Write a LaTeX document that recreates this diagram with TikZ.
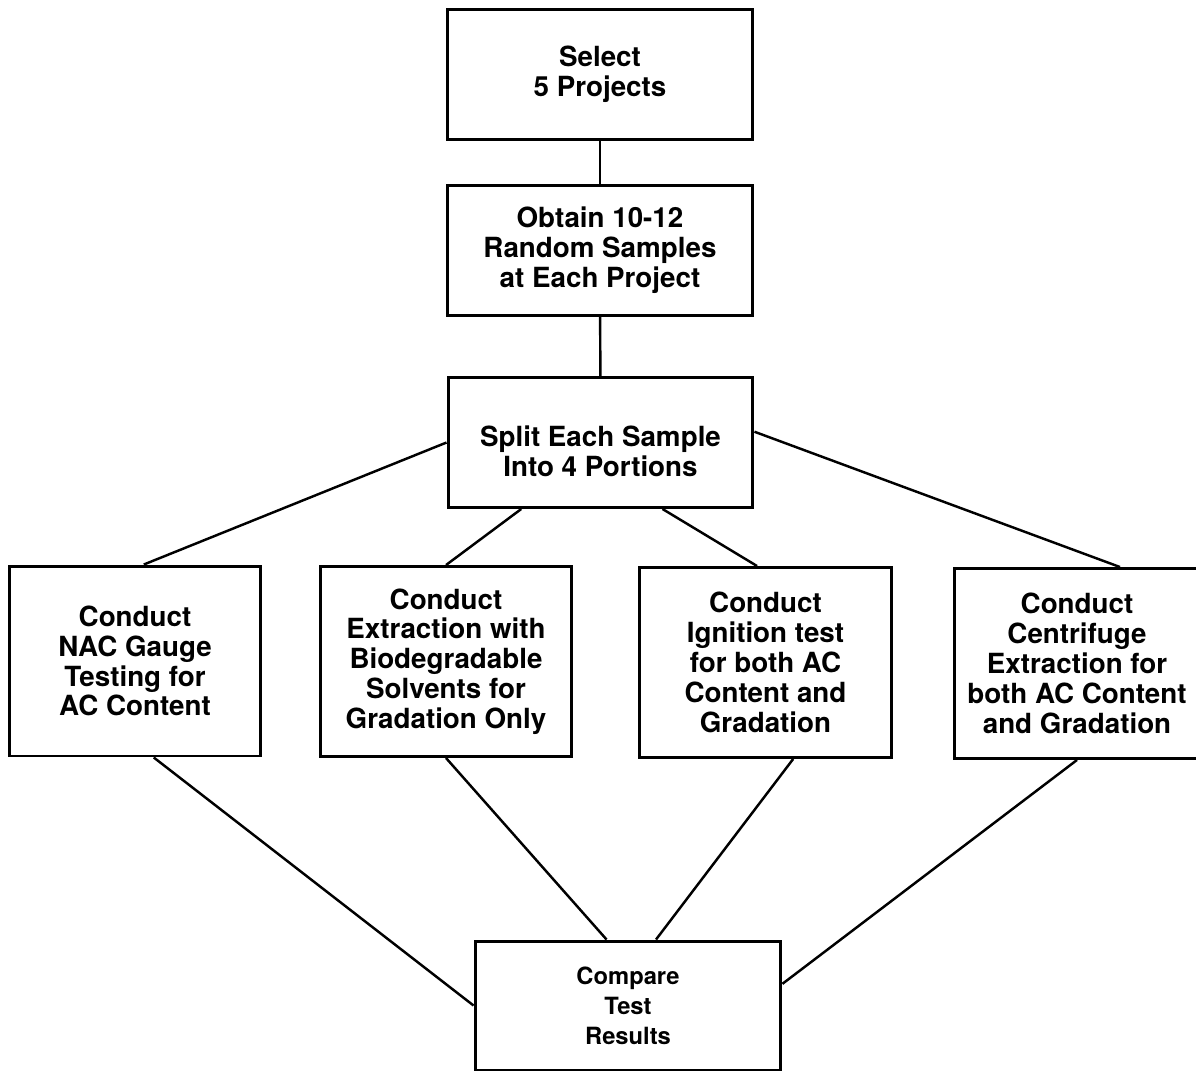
\documentclass[tikz,border=0pt]{standalone}
\usepackage{fontspec}
\setmainfont{TeX Gyre Heros}
\begin{document}
\begin{tikzpicture}[x=0.02cm,y=-0.02cm,
	box/.style={draw,line width=1.7pt,align=center,inner sep=0pt,font=\bfseries\fontsize{15.8}{17}\selectfont,minimum width=5.04cm,minimum height=3.8cm},
	wide/.style={minimum width=6.1cm,minimum height=2.6cm}]
	\useasboundingbox (0,0) rectangle (1196,1072);

	\node[box,wide] (sel) at (600,74.5) {Select\\5 Projects};
	\node[box,wide] (obt) at (600,250.5) {Obtain 10-12\\Random Samples\\at Each Project};
	\node[box,wide] (spl) at (600.5,442.5) {\rule{0pt}{22pt}Split Each Sample\\Into 4 Portions};

	\node[box] (nac) at (135,661) {Conduct\\NAC Gauge\\Testing for\\AC Content};
	\node[box] (ext) at (446,661.5) {Conduct\\Extraction with\\Biodegradable\\Solvents for\\Gradation Only};
	\node[box] (ign) at (765.5,662.5) {Conduct\\Ignition test\\for both AC\\Content and\\Gradation};
	\node[box,minimum width=4.92cm] (cen) at (1077,663.5) {Conduct\\Centrifuge\\Extraction for\\both AC Content\\and Gradation};

	\node[box,wide,minimum width=6.12cm,minimum height=2.58cm,font=\bfseries\fontsize{13.5}{17}\selectfont] (cmp) at (628,1005.5) {Compare\\Test\\Results};

	\draw[line width=1.4pt] (sel) -- (obt);
	\draw[line width=1.4pt] (obt) -- (spl);

	\draw[line width=1.4pt] (spl.west) -- ([xshift=5]nac.north);
	\draw[line width=1.4pt] (spl.220) -- (ext.north);
	\draw[line width=1.4pt] (spl.313) -- (ign.95);
	\draw[line width=1.4pt] (spl.4) -- (cen.66);

	\draw[line width=1.4pt] (nac.281) -- (cmp.west);
	\draw[line width=1.4pt] (ext.south) -- (cmp.108);
	\draw[line width=1.4pt] (ign.286) -- (cmp.67);
	\draw[line width=1.4pt] (cen.south) -- (cmp.8);
\end{tikzpicture}
\end{document}
